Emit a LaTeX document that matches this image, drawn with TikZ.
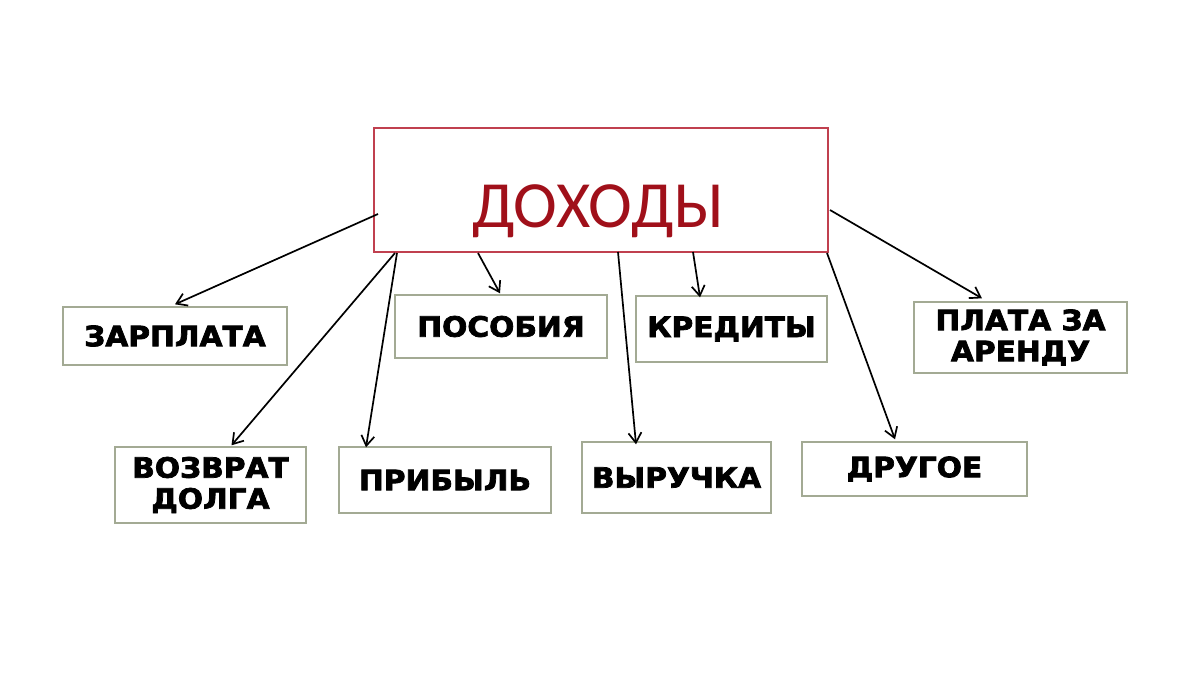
\documentclass[tikz,border=0pt]{standalone}
\usepackage{fontspec}
\setmainfont{Liberation Sans}
\newfontfamily\boxfont[FakeStretch=1.06,BoldFeatures={FakeStretch=1.06,FakeBold=2.6}]{DejaVu Sans}
\newfontfamily\titlefont{Carlito}
\usetikzlibrary{arrows.meta,calc}
\definecolor{mainred}{HTML}{C0404F}
\definecolor{titlered}{HTML}{A0101A}
\definecolor{boxgreen}{HTML}{A3AA94}
\tikzset{
  itembox/.style={draw=boxgreen, line width=1.4pt, inner sep=0pt, align=center,
    font=\boxfont\bfseries\fontsize{28}{31}\selectfont, text=black},
  conn/.style={draw=black, line width=1.7pt, -{Straight Barb[length=10pt,width=13pt,line width=1.7pt]}},
}
\begin{document}
\begin{tikzpicture}[x=1pt,y=-1pt]
\useasboundingbox[fill=white] (0,0) rectangle (1200,675);
\node[draw=mainred, line width=1.3pt, minimum width=454pt, minimum height=124pt, inner sep=0pt] (main) at (601,190) {};
\node[font=\titlefont\fontsize{66}{66}\selectfont, text=titlered, inner sep=0pt] (title) at (598,211) {ДОХОДЫ};

\node[itembox, minimum width=224pt, minimum height=58pt] (zar) at (175,336) {ЗАРПЛАТА};
\node[itembox, minimum width=191pt, minimum height=76pt] (vozv) at (210.5,485) {ВОЗВРАТ\\ДОЛГА};
\node[itembox, minimum width=212pt, minimum height=63pt] (posob) at (501,326.5) {ПОСОБИЯ};
\node[itembox, minimum width=191pt, minimum height=66pt] (kred) at (731.5,329) {КРЕДИТЫ};
\node[itembox, minimum width=213pt, minimum height=71pt] (arenda) at (1020.5,337.5) {ПЛАТА ЗА\\АРЕНДУ};
\node[itembox, minimum width=212pt, minimum height=66pt] (prib) at (445,480) {ПРИБЫЛЬ};
\node[itembox, minimum width=189pt, minimum height=71pt] (vyr) at (676.5,477.5) {ВЫРУЧКА};
\node[itembox, minimum width=225pt, minimum height=54pt] (drug) at (914.5,469) {ДРУГОЕ};

\coordinate (s1) at (378,214);
\coordinate (s2) at (395,253);
\coordinate (s3) at (397,253);
\coordinate (s4) at (478,253);
\coordinate (s5) at (618,252);
\coordinate (s6) at (693,252);
\coordinate (s7) at (830,210);
\coordinate (s8) at (827,253);

\draw[conn] (s1) -- ($(zar.north)+(0,-2)$);
\draw[conn] (s2) -- ($(vozv.north)+(21,-1)$);
\draw[conn] (s3) -- ($(prib.north)+(-79,1)$);
\draw[conn] (s4) -- ($(posob.north)+(-1,-1)$);
\draw[conn] (s5) -- ($(vyr.north)+(-40.5,3)$);
\draw[conn] (s6) -- ($(kred.north)+(-31.5,2)$);
\draw[conn] (s7) -- ($(arenda.north)+(-38.5,-3)$);
\draw[conn] (s8) -- ($(drug.north)+(-19.5,-2)$);
\end{tikzpicture}
\end{document}
